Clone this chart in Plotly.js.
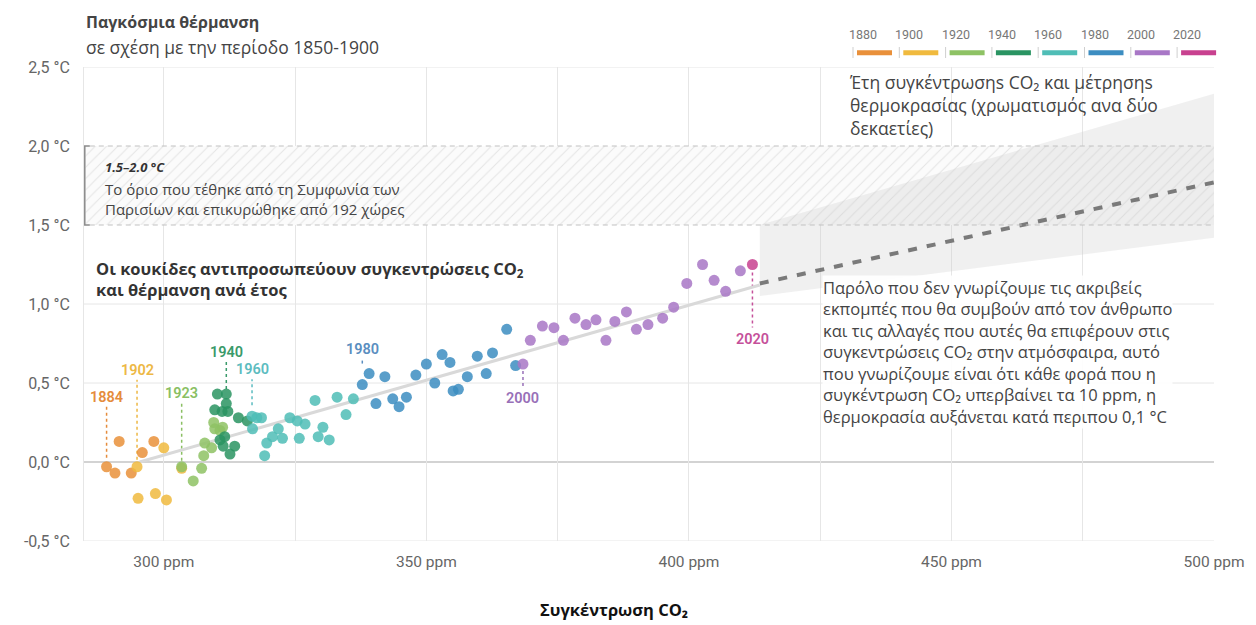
<!DOCTYPE html>
<html><head><meta charset="utf-8">
<script src="https://cdn.plot.ly/plotly-3.0.1.min.js"></script>
<style>html,body{margin:0;padding:0;background:#fff}#chart{width:1256px;height:625px}</style>
</head><body><div id="chart"></div>
<script>
// ---------- DATA ----------
const periods = ['1880','1900','1920','1940','1960','1980','2000','2020'];
const periodColors = ['#E9903A','#F0BA3E','#8EC264','#2A9462','#4FBDB6','#3C8DC1','#A877C6','#C8418F'];
const labelColors  = ['#E58C3C','#EDB845','#8ABF63','#3A9A6A','#5CBCC0','#5A8EC0','#9870B8','#C5509A'];

const co2_1880 = [289.1, 290.7, 291.5, 293.8, 295.9, 298.1];
const temp_1880 = [-0.03, -0.07, 0.13, -0.07, 0.06, 0.13];
const co2_1900 = [294.9, 300.0, 295.1, 298.4, 300.5, 303.4];
const temp_1900 = [-0.03, 0.09, -0.23, -0.20, -0.24, -0.04];
const co2_1920 = [303.4, 305.6, 307.2, 307.6, 309.1, 307.8, 309.7, 310.7, 311.2, 309.5];
const temp_1920 = [-0.03, -0.12, -0.04, 0.04, 0.09, 0.12, 0.21, 0.20, 0.22, 0.25];
const co2_1940 = [311.9, 310.2, 311.9, 309.7, 311.1, 312.2, 314.2, 315.9, 310.7, 311.6, 311.3, 313.5, 312.6];
const temp_1940 = [0.43, 0.43, 0.37, 0.33, 0.32, 0.32, 0.28, 0.26, 0.14, 0.16, 0.10, 0.10, 0.05];
const co2_1960 = [316.8, 317.7, 318.6, 316.9, 319.2, 319.6, 320.7, 321.8, 322.6, 324.0, 325.4, 326.9, 325.8, 328.8, 330.3, 329.4, 331.5, 333.0, 334.7, 336.1];
const temp_1960 = [0.29, 0.28, 0.28, 0.21, 0.04, 0.12, 0.16, 0.21, 0.15, 0.28, 0.26, 0.24, 0.15, 0.39, 0.22, 0.16, 0.14, 0.41, 0.30, 0.40];
const co2_1980 = [337.8, 339.1, 342.1, 340.4, 343.6, 344.8, 346.2, 348.0, 350.0, 351.6, 353.0, 354.5, 355.1, 356.1, 357.8, 359.7, 361.4, 362.6, 365.3, 367.0];
const temp_1980 = [0.49, 0.56, 0.54, 0.37, 0.40, 0.35, 0.41, 0.55, 0.62, 0.50, 0.68, 0.63, 0.45, 0.46, 0.54, 0.67, 0.56, 0.69, 0.84, 0.61];
const co2_2000 = [368.4, 369.8, 372.1, 374.3, 376.1, 378.3, 380.4, 382.3, 384.2, 385.9, 388.1, 390.0, 392.2, 395.0, 397.1, 399.6, 402.6, 404.8, 407.0, 409.8];
const temp_2000 = [0.62, 0.77, 0.86, 0.85, 0.77, 0.91, 0.87, 0.90, 0.77, 0.89, 0.95, 0.84, 0.87, 0.91, 0.98, 1.13, 1.25, 1.15, 1.08, 1.21];
const co2_2020 = [412.1];
const temp_2020 = [1.25];

const groupsCo2  = [co2_1880, co2_1900, co2_1920, co2_1940, co2_1960, co2_1980, co2_2000, co2_2020];
const groupsTemp = [temp_1880, temp_1900, temp_1920, temp_1940, temp_1960, temp_1980, temp_2000, temp_2020];

// labelled years (first point of each group)
const labelYears = ['1884','1902','1923','1940','1960','1980','2000','2020'];

// trend + projection
const trendCo2 = [295.4, 413.5];
const trendTemp = [0.0, 1.12];
const projCo2 = [413.5, 500];
const projTemp = [1.13, 1.77];
const coneCo2 = [413.5, 500];
const coneLow = [1.05, 1.42];
const coneHigh = [1.5, 2.33];
const parisLow = 1.5, parisHigh = 2.0;

// axes
const xTickVals = [300, 350, 400, 450, 500];
const xTickText = ['300 ppm','350 ppm','400 ppm','450 ppm','500 ppm'];
const xMinorVals = [325, 375, 425, 475];
const yTickVals = [-0.5, 0, 0.5, 1, 1.5, 2, 2.5];
const yTickText = ['-0,5 °C','0,0 °C','0,5 °C','1,0 °C','1,5 °C','2,0 °C','2,5 °C'];
const yGridVals = [-0.5, 0.5, 1.0, 2.5];

// ---------- LAYOUT HELPERS ----------
const X0 = 284.8, X1 = 500;
const FONT = 'Open Sans, Noto Sans, sans-serif';
const TXT = '#444';

const traces = [];
// Paris band (hatched)
traces.push({
  x: [X0 + 0.3, X1, X1, X0 + 0.3], y: [parisLow, parisLow, parisHigh, parisHigh],
  mode: 'lines', fill: 'toself', line: {width: 0},
  fillcolor: '#fbfbfb',
  fillpattern: {shape: '/', fgcolor: '#e4e4e4', bgcolor: '#fbfbfb', size: 8, solidity: 0.12},
  hoverinfo: 'skip', showlegend: false
});
// Cone
traces.push({
  x: [coneCo2[0], coneCo2[1], coneCo2[1], coneCo2[0]],
  y: [coneLow[0], coneLow[1], coneHigh[1], coneHigh[0]],
  mode: 'lines', fill: 'toself', line: {width: 0},
  fillcolor: 'rgba(200,200,200,0.28)', hoverinfo: 'skip', showlegend: false
});
// Trend
traces.push({x: trendCo2, y: trendTemp, mode: 'lines', line: {color: '#d9d9d9', width: 3},
  hoverinfo: 'skip', showlegend: false});
traces.push({x: projCo2, y: projTemp, mode: 'lines', line: {color: '#7a7a7a', width: 4, dash: '9px,10px'},
  hoverinfo: 'skip', showlegend: false});
// Points
periods.forEach((p, i) => {
  traces.push({
    x: groupsCo2[i], y: groupsTemp[i], mode: 'markers', name: p,
    marker: {size: 11, color: periodColors[i], opacity: 0.85, line: {width: 0}},
    showlegend: false
  });
});

const shapes = [];
// y gridlines
yGridVals.forEach(v => shapes.push({type: 'line', xref: 'x', yref: 'y', x0: X0, x1: X1, y0: v, y1: v,
  line: {color: '#e6e6e6', width: 1}, layer: 'below'}));
// zero line
shapes.push({type: 'line', xref: 'x', yref: 'y', x0: X0, x1: X1, y0: 0, y1: 0,
  line: {color: '#c4c4c4', width: 1.5}, layer: 'below'});
// Paris band dashed edges
[parisLow, parisHigh].forEach(v => shapes.push({type: 'line', xref: 'x', yref: 'y', x0: X0 + 1.1, x1: X1, y0: v, y1: v,
  line: {color: '#c2c2c2', width: 1.2, dash: '5px,4px'}}));
// bracket
shapes.push({type: 'path', xref: 'x', yref: 'y',
  path: `M ${X0 + 1.1},${parisHigh} L ${X0 + 0.15},${parisHigh} L ${X0 + 0.15},${parisLow} L ${X0 + 1.1},${parisLow}`,
  line: {color: '#8a8a8a', width: 1.5}});

// leader lines + year labels
const leaderFrom = [9, 7, 6, 5, 11, 21, -7, -8];
const leaderTo   = [60, 87, 64, 33, 37, 26, -22, -63];
const labelShift = [69, 96, 73, 42, 47, 35, -34, -75];
const annotations = [];
labelYears.forEach((yr, i) => {
  const px = groupsCo2[i][0], py = groupsTemp[i][0];
  shapes.push({type: 'line', xref: 'x', yref: 'y', ysizemode: 'pixel', yanchor: py,
    x0: px, x1: px, y0: leaderFrom[i], y1: leaderTo[i],
    line: {color: labelColors[i], width: 1.5, dash: '3px,3px'}, layer: 'below'});
  annotations.push({x: px, y: py, xref: 'x', yref: 'y', text: yr, showarrow: false,
    yshift: labelShift[i], yanchor: 'middle', xanchor: 'center',
    font: {family: 'Roboto, sans-serif', size: 14.5, color: labelColors[i], weight: 600}});
});

// custom period legend (top right)
const legStartPx = 853, legPitch = 46.3;
const toPX = px => (px - 84) / 1130;
const toPY = py => (541 - py) / 474;
periods.forEach((p, i) => {
  const s = legStartPx + i * legPitch;
  shapes.push({type: 'line', xref: 'paper', yref: 'paper', x0: toPX(s), x1: toPX(s), y0: toPY(47), y1: toPY(58),
    line: {color: '#cfcfcf', width: 1}});
  shapes.push({type: 'line', xref: 'paper', yref: 'paper', x0: toPX(s + 4), x1: toPX(s + 39), y0: toPY(52.7), y1: toPY(52.7),
    line: {color: periodColors[i], width: 5}});
  annotations.push({xref: 'paper', yref: 'paper', x: toPX(s + 10), y: toPY(34), text: p, showarrow: false,
    xanchor: 'center', yanchor: 'middle', font: {family: 'Roboto, sans-serif', size: 12.5, color: '#777'}});
});

// texts
annotations.push(
  {xref: 'paper', yref: 'paper', x: 0, y: toPY(22), xanchor: 'left', yanchor: 'middle', showarrow: false,
   text: '<b>Παγκόσμια θέρμανση</b>', font: {family: FONT, size: 16, color: TXT}},
  {xref: 'paper', yref: 'paper', x: 0, y: toPY(47), xanchor: 'left', yanchor: 'middle', showarrow: false,
   text: 'σε σχέση με την περίοδο 1850-1900', font: {family: FONT, size: 17.5, color: TXT}},
  {xref: 'x', yref: 'y', x: 288.4, y: 1.865, xanchor: 'left', yanchor: 'middle', showarrow: false,
   text: '<b><i>1.5–2.0 °C</i></b>', font: {family: FONT, size: 13, color: '#333'}},
  {xref: 'x', yref: 'y', x: 288.4, y: 1.666, xanchor: 'left', yanchor: 'middle', align: 'left', showarrow: false,
   text: 'Το όριο που τέθηκε από τη Συμφωνία των<br>Παρισίων και επικυρώθηκε από 192 χώρες',
   font: {family: FONT, size: 15, color: TXT}},
  {xref: 'x', yref: 'y', x: 286.7, y: 1.16, xanchor: 'left', yanchor: 'middle', align: 'left', showarrow: false,
   text: '<b>Οι κουκίδες αντιπροσωπεύουν συγκεντρώσεις CO<sub>2</sub></b><br><b>και θέρμανση ανά έτος</b>',
   font: {family: FONT, size: 16.5, color: '#333'}},
  {xref: 'x', yref: 'y', x: 430.1, y: 2.26, xanchor: 'left', yanchor: 'middle', align: 'left', showarrow: false,
   text: 'Έτη συγκέντρωσηs CO₂ και μέτρησηs<br>θερμοκρασίας (χρωματισμός ανα δύο<br>δεκαετίες)',
   font: {family: FONT, size: 17.5, color: TXT}},
  {xref: 'x', yref: 'y', x: 425.3, y: 0.698, xanchor: 'left', yanchor: 'middle', align: 'left', showarrow: false,
   bgcolor: 'rgba(255,255,255,0.9)', borderpad: 0,
   text: 'Παρόλο που δεν γνωρίζουμε τις ακριβείς<br>εκπομπές που θα συμβούν από τον άνθρωπο<br>και τις αλλαγές που αυτές θα επιφέρουν στις<br>συγκεντρώσεις CO₂ στην ατμόσφαιρα, αυτό<br>που γνωρίζουμε είναι ότι κάθε φορά που η<br>συγκέντρωση CO₂ υπερβαίνει τα 10 ppm, η<br>θερμοκρασία αυξάνεται κατά περιπου 0,1 °C',
   font: {family: FONT, size: 16.5, color: TXT}},
  {xref: 'paper', yref: 'paper', x: toPX(614), y: toPY(609), xanchor: 'center', yanchor: 'middle', showarrow: false,
   text: '<b>Συγκέντρωση CO₂</b>', font: {family: FONT, size: 16.5, color: '#111'}}
);

const layout = {
  width: 1256, height: 625,
  margin: {l: 84, r: 42, t: 67, b: 84},
  paper_bgcolor: '#ffffff', plot_bgcolor: '#ffffff',
  showlegend: false,
  xaxis: {range: [X0, X1], tickmode: 'array', tickvals: xTickVals, ticktext: xTickText, showgrid: true, gridcolor: '#e6e6e6',
    minor: {tickmode: 'array', tickvals: xMinorVals, showgrid: true, gridcolor: '#e6e6e6', ticks: ''},
    zeroline: false, showline: false, ticks: 'outside', ticklen: 6, tickcolor: 'rgba(0,0,0,0)',
    tickfont: {family: 'Roboto, sans-serif', size: 15.5, color: '#666'}},
  yaxis: {range: [-0.5, 2.5], tickmode: 'array', tickvals: yTickVals, ticktext: yTickText, showgrid: false, zeroline: false,
    showline: true, linecolor: '#e6e6e6', linewidth: 1, ticks: 'outside', ticklen: 10, tickcolor: 'rgba(0,0,0,0)',
    tickfont: {family: 'Roboto, sans-serif', size: 16, color: '#666'}},
  shapes: shapes,
  annotations: annotations,
  hovermode: 'closest'
};

Plotly.newPlot('chart', traces, layout, {displayModeBar: false, responsive: false});
</script></body></html>
